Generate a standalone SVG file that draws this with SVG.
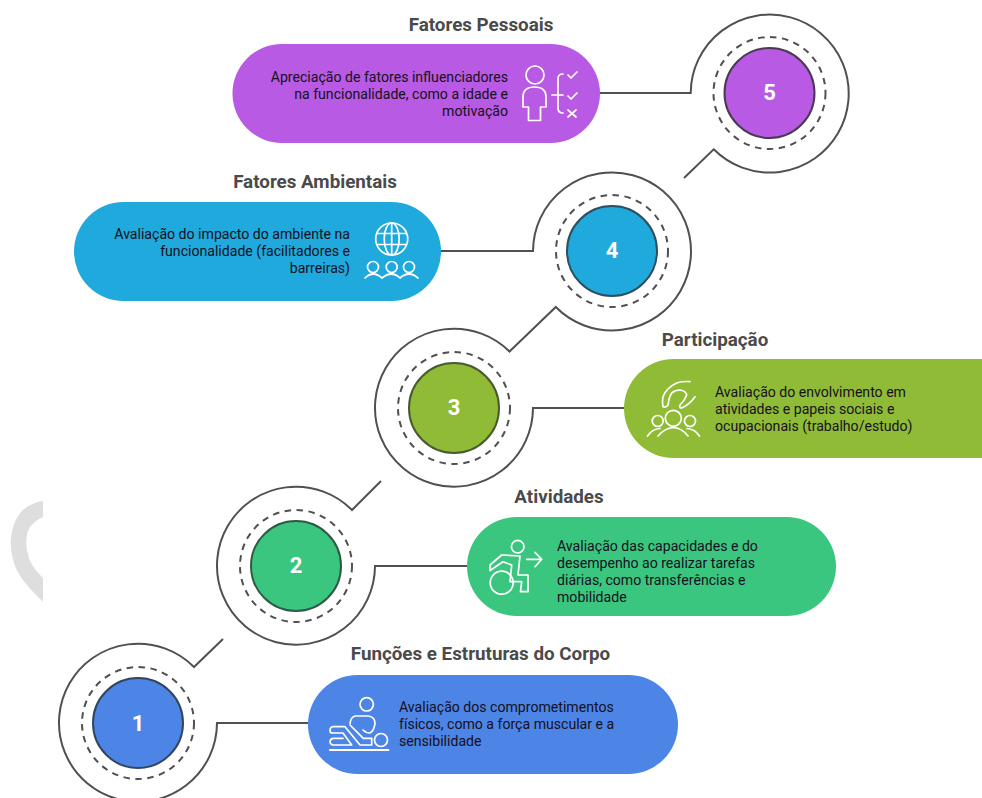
<svg xmlns="http://www.w3.org/2000/svg" width="982" height="798" viewBox="0 0 982 798">
<style>
.t{font:700 18.800px Roboto,"Liberation Sans",sans-serif;fill:#4a4a4a;text-anchor:middle}
.b{font:400 14.100px Roboto,"Liberation Sans",sans-serif;fill:#171020}
.e{text-anchor:end}
.n{font:700 22px Roboto,"Liberation Sans",sans-serif;fill:#fff;text-anchor:middle}
.o{fill:none;stroke:#505050;stroke-width:2}
.d{fill:none;stroke:#505050;stroke-width:2;stroke-dasharray:6.500 5.500}
.i{fill:none;stroke:#fff;stroke-width:1.700;stroke-linecap:round;stroke-linejoin:round}
</style>
<rect width="982" height="798" fill="#fff"/>
<path d="M43 500.700C32 503 26 507 23 510C15 518 11.500 528 10.700 543C11 552 13 562 16.700 570C22 581 33 592 43 601.700V578C36 571 29 562 28.300 555C26 548 26 542 26.700 536.700C27 531 30 527 31.700 525C35 521 39 519 43 516.700Z" fill="#dedede"/>
<g id="connectors">
<path class="o" d="M600 93H690.700A79 79 0 1 1 713.700 149.300L684 178"/>
<path class="o" d="M441 251H533A79 79 0 1 1 555.800 307L509 352"/>
<path class="o" d="M624 408H533A79 79 0 1 1 510 352"/>
<path class="o" d="M381 481L352 510A79 79 0 1 0 375 566H467"/>
<path class="o" d="M223 639L194 667A79 79 0 1 0 217 723H308"/>
</g>
<g id="node5">
<rect x="232.500" y="44" width="367.500" height="99" rx="49.500" fill="#b85ae3"/>
<circle class="d" cx="769.500" cy="93" r="56"/><circle cx="769.500" cy="93" r="45" fill="#b85ae3" stroke="#4a3a55" stroke-width="2"/>
<text class="n" x="769.500" y="100">5</text>
<text class="t" x="481" y="31">Fatores Pessoais</text>
<text class="b e" x="508" y="82">Apreciação de fatores influenciadores</text>
<text class="b e" x="508" y="99">na funcionalidade, como a idade e</text>
<text class="b e" x="508" y="116">motivação</text>
<g class="i"><circle cx="535" cy="75" r="9"/><path d="M528.500 120.500V107H523V97Q523 87 534.500 87Q546 87 546 97V107H540.500V120.500Z"/><path d="M552 95H563M563 74Q558 74 558 79V108Q558 113 563 113"/><path d="M568 75L571 78L577 72M568 96L571 99L577 93M568 110L576 117M576 110L568 117"/></g>
</g>
<g id="node4">
<rect x="74" y="202" width="367" height="99" rx="49.500" fill="#1fa9dd"/>
<circle class="d" cx="612" cy="251" r="56"/><circle cx="612" cy="251" r="45" fill="#1fa9dd" stroke="#2f4f60" stroke-width="2"/>
<text class="n" x="612" y="258">4</text>
<text class="t" x="315" y="188">Fatores Ambientais</text>
<text class="b e" x="350" y="239">Avaliação do impacto do ambiente na</text>
<text class="b e" x="350" y="256">funcionalidade (facilitadores e</text>
<text class="b e" x="350" y="273">barreiras)</text>
<g class="i"><circle cx="391.700" cy="239" r="16"/><ellipse cx="391.700" cy="239" rx="7.500" ry="16"/><path d="M391.700 223V255M377.500 233.500H406M377.500 244.500H406"/><circle cx="373" cy="267" r="5.500"/><circle cx="391.700" cy="267" r="5.500"/><circle cx="409" cy="267" r="5.500"/><path d="M365 278Q373 270 382 278Q391.700 270 400 278Q409 270 418 278"/></g>
</g>
<g id="node3">
<path d="M982 359H673.500A49.500 49.500 0 0 0 673.500 458H982Z" fill="#90bb36"/>
<circle class="d" cx="454" cy="408" r="56"/><circle cx="454" cy="408" r="45" fill="#90bb36" stroke="#4a5a30" stroke-width="2"/>
<text class="n" x="454" y="415">3</text>
<text class="t" x="715" y="346">Participação</text>
<text class="b" x="715" y="397">Avaliação do envolvimento em</text>
<text class="b" x="715" y="414">atividades e papeis sociais e</text>
<text class="b" x="715" y="431">ocupacionais (trabalho/estudo)</text>
<g class="i"><path d="M690 381.700Q682 381 676.700 383Q666 388 663 396.700Q662 402 663 406.700Q666 408 668 405Q669 397 671.700 393Q675 390 680 390Q686 391 686.700 395Q685 400 680 405Q679 408 681.700 408Q690 404 695 396.700"/><circle cx="673.300" cy="418.300" r="8"/><circle cx="657.700" cy="421" r="5.500"/><circle cx="690" cy="421" r="5.500"/><path d="M647.500 436Q652 429 660 428.500M699.500 436Q695 429 687 428.500M658 436Q665 428 673.300 427.500Q682 428 688 436"/></g>
</g>
<g id="node2">
<rect x="467" y="517" width="369" height="99" rx="49.500" fill="#3bc680"/>
<circle class="d" cx="296" cy="566" r="56"/><circle cx="296" cy="566" r="45" fill="#3bc680" stroke="#2f5a45" stroke-width="2"/>
<text class="n" x="296" y="573">2</text>
<text class="t" x="559" y="503">Atividades</text>
<text class="b" x="557" y="551">Avaliação das capacidades e do</text>
<text class="b" x="557" y="568">desempenho ao realizar tarefas</text>
<text class="b" x="557" y="585">diárias, como transferências e</text>
<text class="b" x="557" y="602">mobilidade</text>
<g class="i"><circle cx="517.700" cy="546.700" r="6.300"/><circle cx="501.700" cy="582.700" r="11.500"/><path d="M490 565L501.700 555L520 556L518 575H528V591.700H520.500L521.700 581.700H510L511.700 565L503 561.700L490 570.500Z"/><path d="M526.700 559.300H541.700M535 552.300L541.700 559.300L535 566.700"/></g>
</g>
<g id="node1">
<rect x="308" y="675" width="370" height="99" rx="49.500" fill="#4c85e6"/>
<circle class="d" cx="138" cy="723" r="56"/><circle cx="138" cy="723" r="45" fill="#4c85e6" stroke="#33465f" stroke-width="2"/>
<text class="n" x="138" y="731">1</text>
<text class="t" x="480.500" y="660">Funções e Estruturas do Corpo</text>
<text class="b" x="399" y="712">Avaliação dos comprometimentos</text>
<text class="b" x="399" y="729">físicos, como a força muscular e a</text>
<text class="b" x="399" y="746">sensibilidade</text>
<g class="i"><circle cx="366.700" cy="704.300" r="6.700"/><circle cx="381" cy="740" r="6.500"/><path d="M350 723.300Q351 717 355 716H368.300Q375 717 375 723.300Q374 731 370 733Q366 733 363 730"/><path d="M350 725L363.300 738.300H371.700V745H360L345 726.700H333Q330 727 330 731Q330 733 333 733H343L351.700 745H333Q330 744 330 741.700Q330 739 333 738.300H343"/><path d="M330 750H388.300" stroke-width="2.200"/></g>
</g>
</svg>
